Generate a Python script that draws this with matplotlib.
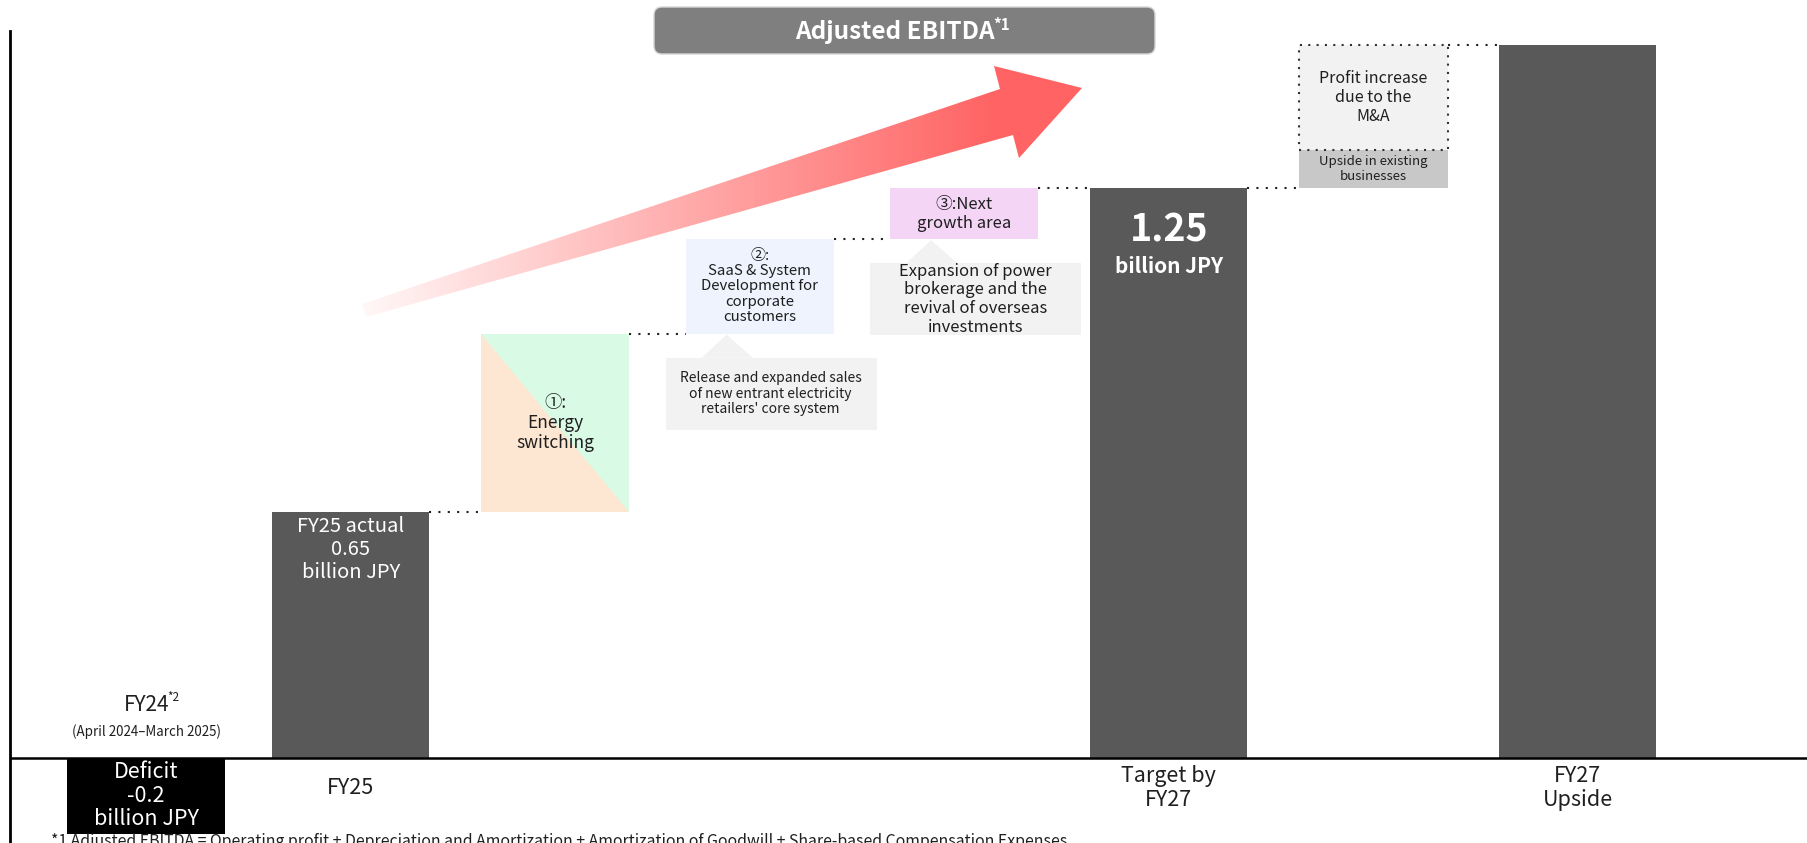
import numpy as np
import matplotlib
matplotlib.use('Agg')
import matplotlib.pyplot as plt
from matplotlib.patches import Polygon, Rectangle, FancyBboxPatch

plt.rcParams['font.family'] = ['Noto Sans CJK JP', 'DejaVu Sans']

# Adjusted EBITDA, billion JPY
fy24_value = -0.2
fy25_value = 0.65
target_value = 1.25

growth_labels = ['①:\nEnergy\nswitching',
                 '②:\nSaaS & System\nDevelopment for\ncorporate\ncustomers',
                 '③:Next\ngrowth area']
growth_steps = [0.33, 0.175, 0.095]
growth_notes = [None,
                "Release and expanded sales\nof new entrant electricity\nretailers' core system",
                'Expansion of power\nbrokerage and the\nrevival of overseas\ninvestments']

upside_labels = ['Upside in existing\nbusinesses', 'Profit increase\ndue to the\nM&A']
upside_steps = [0.07, 0.195]

tick_labels = ['FY25', 'Target by\nFY27', 'FY27\nUpside']

fy27_upside_value = target_value + sum(upside_steps)

TXT = '#1f1f1f'
DARK = '#595959'

W, H = 1808, 843
fig = plt.figure(figsize=(W / 100, H / 100), dpi=100)
ax = fig.add_axes([10 / W, 0, 1 - 10 / W, 1 - 31 / H])

# the part above FY25 is drawn stretched so the growth steps read clearly
stretch = 1.427


def fwd(v):
    v = np.asarray(v, dtype=float)
    return np.where(v > fy25_value, fy25_value + (v - fy25_value) * stretch, v)


def inv(u):
    u = np.asarray(u, dtype=float)
    return np.where(u > fy25_value, fy25_value + (u - fy25_value) / stretch, u)


ax.set_yscale('function', functions=(fwd, inv))
ax.set_xlim(-0.666, 8.126)
ax.set_ylim(-0.2246, 1.5405)
ax.xaxis.set_visible(False)
ax.yaxis.set_visible(False)
for s in ['top', 'right', 'bottom']:
    ax.spines[s].set_visible(False)
ax.spines['left'].set_linewidth(2)
ax.spines['left'].set_color('black')
ax.axhline(0, color='black', lw=1.8, zorder=4)

# main bars
bars = ax.bar([0, 1, 5, 7], [fy24_value, fy25_value, target_value, fy27_upside_value],
              width=0.77, color=['black', DARK, DARK, DARK], zorder=2)

# growth steps between FY25 and the FY27 target
step_bottoms = fy25_value + np.concatenate([[0], np.cumsum(growth_steps)[:-1]])
step_tops = step_bottoms + np.array(growth_steps)
steps = ax.bar([2, 3, 4], growth_steps, bottom=step_bottoms, width=0.725,
               color=['#fde6d2', '#eff3fd', '#f5d5f6'], zorder=2)
p = steps[0]
x0, y0, w, h = p.get_x(), p.get_y(), p.get_width(), p.get_height()
ax.add_patch(Polygon([(x0, y0 + h), (x0 + w, y0 + h), (x0 + w, y0)], closed=True,
                     fc='#d9fbe6', lw=0, zorder=2))
for bar, lab, fs, ls in zip(steps, growth_labels, [12.5, 10.8, 12], [1.15, 1.12, 1.15]):
    ax.text(bar.get_x() + bar.get_width() / 2, bar.get_y() + bar.get_height() / 2, lab,
            ha='center', va='center', fontsize=fs, color=TXT, linespacing=ls, zorder=3)

# upside on top of the target
up_bottoms = target_value + np.concatenate([[0], np.cumsum(upside_steps)[:-1]])
ups = ax.bar([6, 6], upside_steps, bottom=up_bottoms, width=0.73,
             color=['#c8c8c8', '#f2f2f2'], zorder=2)
ups[1].set_edgecolor('#333333')
ups[1].set_linestyle((0, (1, 3)))
ups[1].set_linewidth(1.5)
for bar, lab, fs in zip(ups, upside_labels, [9.5, 11.5]):
    ax.text(bar.get_x() + bar.get_width() / 2, bar.get_y() + bar.get_height() / 2, lab,
            ha='center', va='center', fontsize=fs, color=TXT, linespacing=1.15, zorder=3)

# dotted connectors
pairs = [(bars[1], steps[0], fy25_value), (steps[0], steps[1], step_tops[0]),
         (steps[1], steps[2], step_tops[1]), (steps[2], bars[2], target_value),
         (bars[2], ups[0], target_value), (ups[1], bars[3], fy27_upside_value)]
for a, b, lvl in pairs:
    ax.plot([a.get_x() + a.get_width(), b.get_x()], [lvl, lvl], color='#222222',
            lw=1.5, ls=(0, (1, 3.5)), zorder=3)

# labels on the bars
ax.annotate(f'FY25 actual\n{fy25_value:.2f}\nbillion JPY', xy=(1, fy25_value), xytext=(0, -4),
            textcoords='offset pixels', ha='center', va='top', color='white', fontsize=14.5,
            linespacing=1.12)
ax.annotate(f'{target_value:.2f}', xy=(5, target_value), xytext=(0, -42),
            textcoords='offset pixels', ha='center', va='center', color='white',
            fontsize=27, fontweight='bold')
ax.annotate('billion JPY', xy=(5, target_value), xytext=(0, -79),
            textcoords='offset pixels', ha='center', va='center', color='white',
            fontsize=15, fontweight='bold')
ax.annotate(f'Deficit\n{fy24_value:.1f}\nbillion JPY', xy=(0, fy24_value / 2),
            ha='center', va='center', color='white', fontsize=15.5, linespacing=1.08)

fy24 = ax.annotate('FY24', xy=(0, 0), xytext=(0, 53), textcoords='offset pixels',
                   ha='center', va='center', fontsize=15, color=TXT)
ax.annotate('*2', xy=(1, 1), xycoords=fy24, xytext=(-2, -4), textcoords='offset pixels',
            ha='left', va='center', fontsize=8.5, color=TXT)
ax.annotate('(April 2024–March 2025)', xy=(0, 0), xytext=(0, 26), textcoords='offset pixels',
            ha='center', va='center', fontsize=9.6, color=TXT)

for xi, lab in zip([1, 5, 7], tick_labels):
    ax.annotate(lab, xy=(xi, 0), xytext=(0, -30), textcoords='offset pixels',
                ha='center', va='center', fontsize=15.5, color=TXT, linespacing=1.12)

# overlay in pixel units for title, arrow, callouts and footnote
ov = fig.add_axes([0, 0, 1, 1], zorder=3)
ov.axis('off')


def to_px(x, v):
    dx, dy = ax.transData.transform((x, v))
    return dx, H - dy


for bar, note, fs in zip(steps, growth_notes, [None, 10, 12]):
    if not note:
        continue
    cx, by = to_px(bar.get_x() + bar.get_width() / 2, bar.get_y())
    ov.add_patch(Polygon([(cx - 58, by + 24), (cx - 33, by + 1), (cx - 7, by + 24)],
                         closed=True, fc='#f2f2f2', lw=0))
    ov.add_patch(Rectangle((cx - 94, by + 24), 211, 72, fc='#f2f2f2', lw=0))
    ov.text(cx + 11, by + 60, note, ha='center', va='center', fontsize=fs, color=TXT,
            linespacing=1.12)

# gradient arrow
arrow = Polygon([(362, 304), (1000, 89), (994, 66), (1082, 88), (1019, 158), (1013, 135),
                 (366, 317)], closed=True, fc='none', ec='none')
ov.add_patch(arrow)
gx = np.linspace(350, 1090, 400)
ramp = np.clip((gx - 362) / 630, 0, 1)
rgba = np.zeros((1, gx.size, 4))
rgba[..., 0] = 1.0
rgba[..., 1] = 0.39
rgba[..., 2] = 0.39
rgba[..., 3] = 0.05 + 0.95 * ramp
img = ov.imshow(rgba, extent=(350, 1090, 330, 55), aspect='auto', interpolation='bilinear')
img.set_clip_path(arrow)

# title
ov.add_patch(FancyBboxPatch((654, 7), 501, 47, boxstyle='round,pad=0,rounding_size=8',
                            fc='#7f7f7f', ec='#d6d6d6', lw=1))
title = ov.text(895, 39.5, 'Adjusted EBITDA', ha='center', va='baseline', color='white',
                fontsize=17.5, fontweight='bold')
ov.annotate('*1', xy=(1, 1), xycoords=title, xytext=(-2, -5), textcoords='offset pixels',
            ha='left', va='center', fontsize=11, fontweight='bold', color='white')

ov.text(51, 846, '*1 Adjusted EBITDA = Operating profit + Depreciation and Amortization + '
        'Amortization of Goodwill + Share-based Compensation Expenses',
        ha='left', va='baseline', fontsize=11.4, color=TXT)

ov.set_xlim(0, W)
ov.set_ylim(H, 0)

fig.savefig('out.png', dpi=100)
